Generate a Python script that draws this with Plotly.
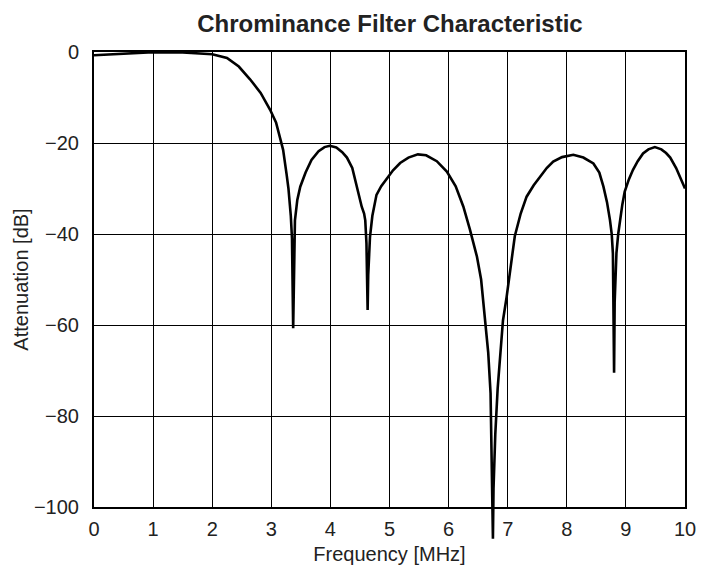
import plotly.graph_objects as go

# Frequenzgang des Chroma-Filters
freq = [0, 0.5, 1.0, 1.5, 2.0, 2.25, 2.45, 2.64, 2.82, 2.98, 3.08, 3.15, 3.20, 3.26, 3.29,
        3.33, 3.35, 3.37, 3.38, 3.40, 3.44, 3.49, 3.58, 3.68, 3.80, 3.90, 3.99, 4.10, 4.20,
        4.28, 4.37, 4.44, 4.49, 4.53, 4.57, 4.59, 4.61, 4.63, 4.64, 4.67, 4.71, 4.75, 4.78,
        4.86, 4.95, 5.06, 5.18, 5.32, 5.48, 5.62, 5.80, 5.97, 6.12, 6.25, 6.36, 6.48, 6.55,
        6.62, 6.67, 6.71, 6.75, 6.76, 6.79, 6.83, 6.88, 6.92, 6.98, 7.05, 7.12, 7.22, 7.32,
        7.44, 7.55, 7.66, 7.77, 7.92, 8.11, 8.28, 8.45, 8.55, 8.62, 8.68, 8.73, 8.76, 8.78,
        8.80, 8.81, 8.84, 8.87, 8.90, 8.94, 8.98, 9.05, 9.12, 9.20, 9.29, 9.38, 9.49, 9.60,
        9.68, 9.75, 9.85, 9.92, 10.0]
atten = [-0.7, -0.3, -0.05, -0.1, -0.5, -1.3, -3.2, -6, -9, -12.7, -15.5, -19, -21.5, -27, -30,
         -36, -41, -60.7, -48, -37, -32.5, -29.6, -26.5, -23.7, -21.8, -20.9, -20.6, -21, -22,
         -23.2, -25.5, -29.2, -32, -34, -35.5, -37, -42, -56.7, -49, -40.6, -36, -33, -31.4,
         -29.5, -27.8, -26, -24.4, -23.2, -22.5, -22.7, -24, -26.3, -29.5, -34, -39, -45, -50,
         -58.9, -66, -75, -107, -96, -84, -74, -65, -59, -54, -47, -40.5, -35.5, -31.8,
         -29.3, -27.4, -25.5, -24.1, -23.1, -22.6, -23.2, -24.5, -26.5, -29.6, -33, -36.9, -40, -44.3,
         -70.5, -55, -44.2, -40, -36.9, -33.5, -30.7, -28, -25.9, -24, -22.3, -21.4, -20.9, -21.4,
         -22.2, -23.2, -25.5, -27.8, -30]

x_ticks = [0, 1, 2, 3, 4, 5, 6, 7, 8, 9, 10]
y_ticks = [0, -20, -40, -60, -80, -100]
y_labels = ["0", "\u221220", "\u221240", "\u221260", "\u221280", "\u2212100"]

W, H = 702, 576
m_l, m_r, m_t, m_b = 94, 17, 52, 22
plot_h = H - m_t - m_b
d0 = 1 - 455 / plot_h  # untere Kante des Diagramms

FONT = "Liberation Sans, Arial, sans-serif"
INK = "#222222"

fig = go.Figure()
# unsichtbare Spur, damit das Haupt-Achsenpaar gezeichnet wird
fig.add_trace(go.Scatter(x=freq, y=atten, mode="lines", line=dict(color="rgba(0,0,0,0)", width=0),
                         showlegend=False, hoverinfo="skip"))
# Kurve auf einer nach unten verlaengerten Achse, damit die Kerbe bei 6.75 MHz ueber den Rand ragt
fig.add_trace(go.Scatter(x=freq, y=atten, mode="lines", xaxis="x2", yaxis="y2",
                         line=dict(color="black", width=2.6), showlegend=False,
                         hoverinfo="x+y"))

axis_common = dict(showgrid=True, gridcolor="black", gridwidth=1, zeroline=False,
                   showline=True, linecolor="black", linewidth=2, mirror=True, ticks="",
                   tickfont=dict(family=FONT, size=20, color=INK))

fig.update_layout(
    width=W, height=H,
    margin=dict(l=m_l, r=m_r, t=m_t, b=m_b, autoexpand=False),
    paper_bgcolor="white", plot_bgcolor="rgba(0,0,0,0)",
    title=dict(text="<b>Chrominance Filter Characteristic</b>", x=390 / W, xanchor="center",
               y=1 - 24 / H, yanchor="middle", font=dict(family=FONT, size=24, color=INK)),
    xaxis=dict(range=[0, 10], tickvals=x_ticks, domain=[0, 1], anchor="y", automargin=False,
               ticklabelstandoff=3,
               title=dict(text="Frequency [MHz]", font=dict(family=FONT, size=20, color=INK),
                          standoff=8),
               **axis_common),
    yaxis=dict(range=[-100, 0], tickvals=y_ticks, ticktext=y_labels, domain=[d0, 1], anchor="x",
               automargin=False, ticklabelstandoff=9,
               title=dict(text="Attenuation [dB]", font=dict(family=FONT, size=20, color=INK),
                          standoff=0),
               **axis_common),
    xaxis2=dict(range=[0, 10], domain=[0, 1], anchor="y2", visible=False),
    yaxis2=dict(range=[-100 / (1 - d0), 0], domain=[0, 1], anchor="x2", visible=False),
)

# Seitenrand entfernen, damit die Grafik genau im Fenster sitzt
fig.write_html("out.html", config={"displayModeBar": False},
               post_script="document.body.style.margin='0';")
